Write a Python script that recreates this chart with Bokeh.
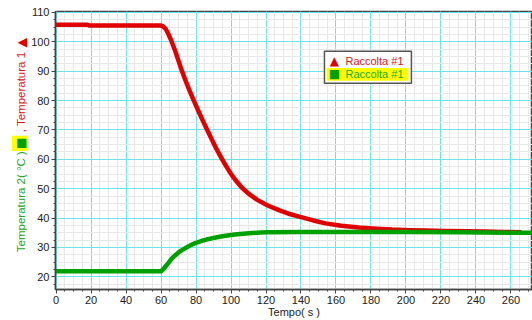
import math
from bokeh.plotting import figure
from bokeh.layouts import row
from bokeh.models import Label, BoxAnnotation, SingleIntervalTicker, Range1d
from bokeh.embed import file_html
from bokeh.resources import INLINE

# Temperatura 1 (red) – Raccolta #1
time1 = [0, 18, 19, 59, 60, 61, 62, 63, 64, 66, 68, 70, 72, 74, 76, 78, 80, 82,
         84, 86, 88, 90, 92, 94, 96, 98, 100, 103, 106, 110, 115, 121, 127, 134,
         140, 147, 154, 163, 173, 183, 192, 202, 211, 222, 234, 245, 256, 266]
temp1 = [105.8, 105.8, 105.5, 105.5, 105.5, 105.3, 104.8, 104.0, 102.9, 100.2,
         97.0, 93.5, 90.0, 86.8, 83.8, 81.0, 78.3, 75.6, 73.0, 70.5, 68.0, 65.5,
         63.2, 61.0, 58.9, 56.9, 55.0, 52.6, 50.5, 48.3, 46.2, 44.3, 42.8, 41.3,
         40.3, 39.2, 38.2, 37.4, 36.8, 36.4, 36.1, 35.9, 35.8, 35.6, 35.5, 35.4,
         35.3, 35.2]

# Temperatura 2 (green) – Raccolta #1
time2 = [0, 60, 61, 62, 64, 66, 68, 70, 72, 74, 77, 80, 83, 86, 89, 92, 95, 98,
         102, 107, 112, 117, 121, 140, 200, 230, 260, 273]
temp2 = [21.9, 21.9, 22.4, 23.1, 24.6, 26.1, 27.3, 28.3, 29.1, 29.8, 30.8, 31.6,
         32.2, 32.7, 33.1, 33.5, 33.8, 34.1, 34.4, 34.7, 34.9, 35.1, 35.2, 35.3,
         35.3, 35.2, 35.0, 35.0]

x_title = "Tempo( s )"
y_title_green = "Temperatura 2( °C )"
y_title_red = ", Temperatura 1"
legend_label = "Raccolta #1"

RED = "#e00000"
GREEN = "#00a000"
RED_TXT = "#e01818"
GREEN_TXT = "#22a822"
FONT = "Liberation Sans"

y_range = Range1d(15.7, 110.3)
LEFT_W = 27

# ---------------- main chart ----------------
p = figure(width=532 - LEFT_W, height=320, output_backend="svg",
           toolbar_location=None,
           x_range=Range1d(-0.3, 272.3), y_range=y_range,
           min_border_left=55 - LEFT_W, min_border_right=0, min_border_top=11,
           min_border_bottom=31)

p.background_fill_color = "white"
p.border_fill_color = "white"
p.outline_line_color = "#444444"
p.outline_line_width = 1.5

for ax, interval in ((p.xaxis, 20), (p.yaxis, 10)):
    ax.ticker = SingleIntervalTicker(interval=interval, num_minor_ticks=4)
    ax.axis_line_color = "#444444"
    ax.axis_line_width = 1.5
    ax.major_tick_line_color = "#444444"
    ax.minor_tick_line_color = "#444444"
    ax.major_tick_in = 0
    ax.major_tick_out = 4
    ax.minor_tick_in = 0
    ax.minor_tick_out = 2
    ax.major_label_text_font = FONT
    ax.major_label_text_font_size = "11px"
    ax.major_label_text_color = "#222222"
    ax.major_label_standoff = 2

p.xaxis.axis_label = x_title
p.xaxis.axis_label_text_font = FONT
p.xaxis.axis_label_text_font_size = "11px"
p.xaxis.axis_label_text_font_style = "normal"
p.xaxis.axis_label_text_color = "#222222"
p.xaxis.axis_label_standoff = -1

for g in (p.xgrid, p.ygrid):
    g.grid_line_color = "#70e2ea"
    g.grid_line_width = 1
    g.minor_grid_line_color = "#e8e8e8"
    g.minor_grid_line_width = 1

p.line(time1, temp1, line_color=RED, line_width=4.5, line_join="round")
p.line(time2, temp2, line_color=GREEN, line_width=4.5, line_join="round")

# --- legend box ---
p.add_layout(BoxAnnotation(left=153.4, right=203.1, top=96.8, bottom=85.9,
                           fill_color="white", fill_alpha=1,
                           line_color="#555555", line_width=1.5, line_alpha=1))
p.add_layout(BoxAnnotation(left=154.6, right=201.4, top=91.1, bottom=86.7,
                           fill_color="#ffff00", fill_alpha=1, line_alpha=0))
p.add_layout(Label(x=159.1, y=93.5, text="▲", text_color=RED,
                   text_font="DejaVu Sans", text_font_size="12px",
                   text_align="center", text_baseline="middle"))
p.add_layout(Label(x=159.1, y=88.9, text="■", text_color=GREEN,
                   text_font="DejaVu Sans", text_font_size="12px",
                   text_align="center", text_baseline="middle"))
p.add_layout(Label(x=165.4, y=93.5, text=legend_label, text_color=RED_TXT,
                   text_font=FONT, text_font_size="11px", text_align="left",
                   text_baseline="middle"))
p.add_layout(Label(x=165.4, y=88.9, text=legend_label, text_color=GREEN_TXT,
                   text_font=FONT, text_font_size="11px", text_align="left",
                   text_baseline="middle"))

# ---------------- left strip with the coloured, rotated y title ----------------
q = figure(width=LEFT_W, height=320, output_backend="svg", toolbar_location=None,
           x_range=Range1d(0, 1), y_range=y_range,
           x_axis_location=None, y_axis_location=None,
           min_border_left=0, min_border_right=0, min_border_top=11,
           min_border_bottom=31)
q.grid.visible = False
q.outline_line_color = None
q.background_fill_color = "white"
q.border_fill_color = "white"

ang = math.pi / 2
YX = 20.5
q.add_layout(Label(x=YX, y=28.4, x_units="screen", y_units="data", angle=ang,
                   text=y_title_green, text_color=GREEN_TXT, text_font=FONT,
                   text_font_size="11.5px", text_align="left",
                   text_baseline="middle"))
q.add_layout(Label(x=YX, y=65.4, x_units="screen", y_units="data", angle=ang,
                   text="■", text_color=GREEN, text_font="DejaVu Sans",
                   text_font_size="12px", text_align="center",
                   text_baseline="middle", background_fill_color="#ffff00",
                   padding=2))
q.add_layout(Label(x=YX, y=69.2, x_units="screen", y_units="data", angle=ang,
                   text=y_title_red, text_color=RED_TXT, text_font=FONT,
                   text_font_size="11.5px", text_align="left",
                   text_baseline="middle"))
q.add_layout(Label(x=YX, y=99.7, x_units="screen", y_units="data", angle=ang,
                   text="▲", text_color=RED, text_font="DejaVu Sans",
                   text_font_size="13px", text_align="center",
                   text_baseline="middle"))

layout = row(q, p, spacing=0)
open("out.html", "w").write(file_html(layout, INLINE))
